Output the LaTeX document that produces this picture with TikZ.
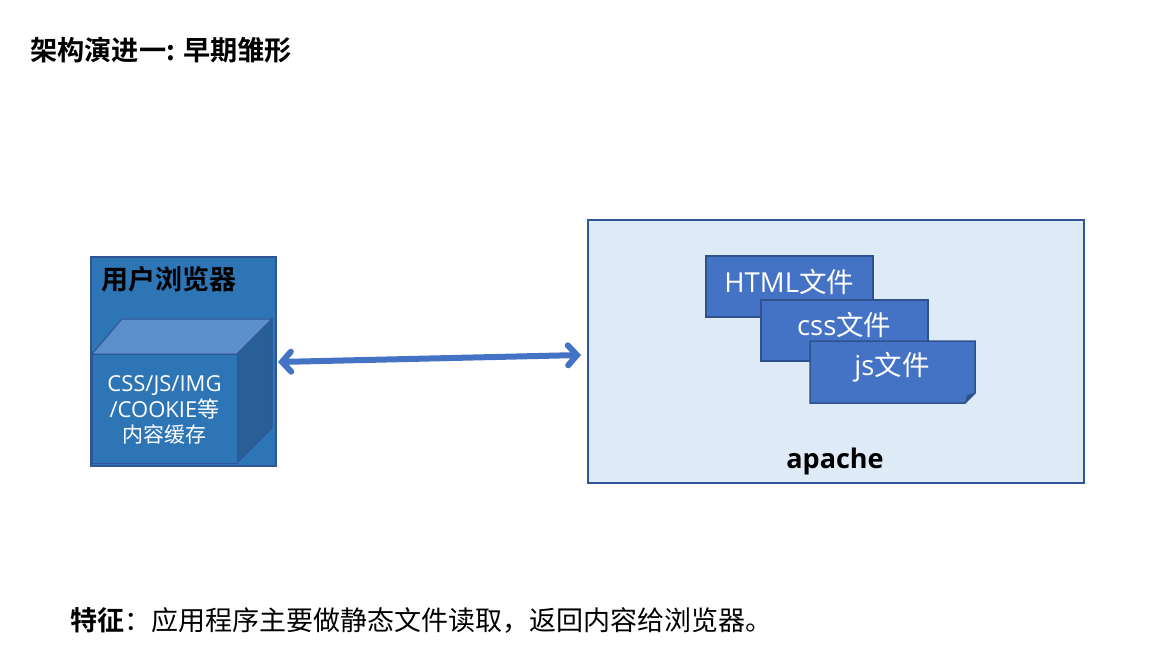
\documentclass[tikz,border=0pt]{standalone}
\usepackage{fontspec}
\setmainfont{Noto Sans CJK SC}
\newfontfamily\cjkb{Noto Sans CJK SC Bold}
\newfontfamily\lat{Open Sans}
\newfontfamily\latb{Open Sans Bold}
\usetikzlibrary{arrows.meta}
\definecolor{outerblue}{HTML}{2E75B6}
\definecolor{topblue}{HTML}{5B8FC9}
\definecolor{sideblue}{HTML}{285F97}
\definecolor{edgeblue}{HTML}{2F5597}
\definecolor{boxblue}{HTML}{4472C4}
\definecolor{boxedge}{HTML}{2F528F}
\definecolor{lightbg}{HTML}{DEEAF6}
\tikzset{
  filebox/.style={draw=boxedge, line width=1.5pt, fill=boxblue, minimum width=167pt, minimum height=61pt, inner sep=0pt, anchor=north west},
  filetext/.style={text=white, font=\fontsize{27.5}{29}\selectfont, inner sep=0pt},
  cubeface/.style={draw=edgeblue, line width=1pt},
}
\begin{document}
\begin{tikzpicture}[x=1pt,y=-1pt]
\useasboundingbox[fill=white] (0,0) rectangle (1171,665);
% title
\node[anchor=west, inner sep=0pt, font=\cjkb\fontsize{27.2}{29}\selectfont] (title) at (30,50) {架构演进一: 早期雏形};
% browser
\node[draw=edgeblue, line width=1.5pt, fill=outerblue, minimum width=185pt, minimum height=209pt, inner sep=0pt, anchor=north west] (browser) at (90,256) {};
\node[anchor=west, inner sep=0pt, font=\cjkb\fontsize{27}{29}\selectfont] (btitle) at (101,279) {用户浏览器};
\fill[cubeface, fill=topblue] (92,354) -- (122,319) -- (272,319) -- (237,354) -- cycle;
\fill[cubeface, fill=sideblue] (237,354) -- (272,319) -- (272,428) -- (237,463) -- cycle;
\node[draw=edgeblue, line width=1pt, fill=outerblue, minimum width=145pt, minimum height=109pt, inner sep=0pt, anchor=north west] (front) at (92,354) {};
\node[text=white, align=center, inner sep=0pt, font=\fontsize{22}{25.5}\selectfont] (cache) at (164.5,410) {{\lat CSS/JS/IMG}\\{\lat /COOKIE}等\\{\fontsize{21}{22}\selectfont 内容缓存}};
% apache
\node[draw=edgeblue, line width=1.5pt, fill=lightbg, minimum width=496pt, minimum height=263pt, inner sep=0pt, anchor=north west] (apache) at (587,219) {};
\node[font=\latb\fontsize{27}{29}\selectfont, inner sep=0pt] (apachelbl) at (835,461) {apache};
\node[filebox] (html) at (705,255) {};
\node[filetext] (htmllbl) at ([yshift=4pt]html.center) {{\lat HTML}文件};
\node[filebox] (css) at (760,299) {};
\node[filetext] (csslbl) at ([yshift=5pt]css.center) {{\lat css}文件};
\coordinate (js) at (810,341);
\draw[draw=boxedge, line width=1.5pt, fill=boxblue] (810,341) -- (975,341) -- (975,393) -- (965,403) -- (810,403) -- cycle;
\fill[boxedge] (975,393) -- (965,403) -- (967,395) -- cycle;
\node[filetext] (jslbl) at (892,367) {{\lat js}文件};
% arrow
\coordinate (aL) at (278,362);
\coordinate (aR) at (581,355);
\draw[boxblue, line width=6pt, line cap=round, {Straight Barb[length=9pt, width=20pt, line cap=round]}-{Straight Barb[length=9pt, width=20pt, line cap=round]}] (aL) -- (aR);
% bottom text
\node[anchor=west, inner sep=0pt, font=\fontsize{27}{29}\selectfont] (feature) at (70,620) {{\cjkb 特征}：应用程序主要做静态文件读取，返回内容给浏览器。};
\end{tikzpicture}
\end{document}
